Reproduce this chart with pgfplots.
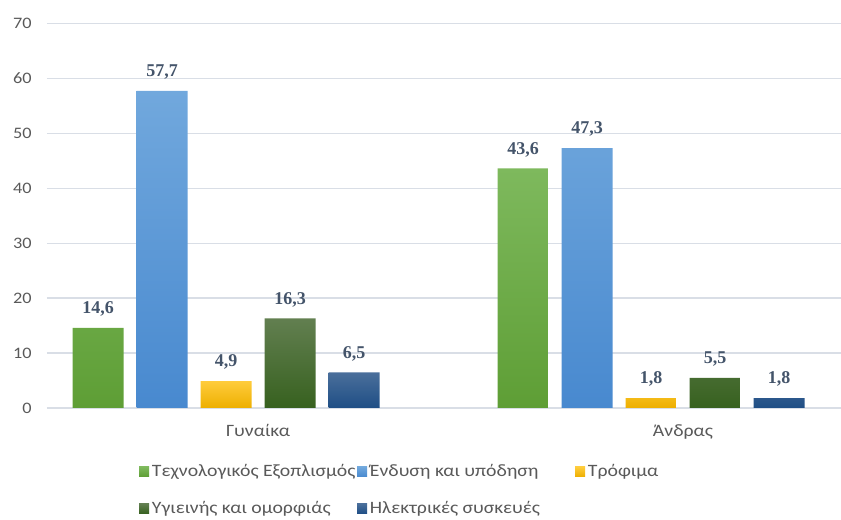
\documentclass[border=0pt]{standalone}
\usepackage{pgfplots}
\pgfplotsset{compat=1.18}
\usepackage{fontspec}
\setmainfont{Carlito}
\newfontfamily\legfont[FakeStretch=1.14]{Carlito}
\newfontfamily\valfont{Liberation Serif}
\definecolor{tickgray}{HTML}{595959}
\definecolor{gridc}{HTML}{D9DEE6}
\definecolor{valc}{HTML}{44546A}
\definecolor{cA}{HTML}{6AAA45}
\definecolor{cAt}{HTML}{7EB95D}
\definecolor{cAb}{HTML}{5E9E35}
\definecolor{cB}{HTML}{5B9BD5}
\definecolor{cBt}{HTML}{71A8DD}
\definecolor{cBb}{HTML}{4889CF}
\definecolor{cC}{HTML}{FFC000}
\definecolor{cCt}{HTML}{FFCC3C}
\definecolor{cCb}{HTML}{EDAF00}
\definecolor{cD}{HTML}{43682B}
\definecolor{cDt}{HTML}{627F50}
\definecolor{cDb}{HTML}{37611F}
\definecolor{cE}{HTML}{255E91}
\definecolor{cEt}{HTML}{4A6F9B}
\definecolor{cEb}{HTML}{1F4E85}
\begin{document}
\begin{tikzpicture}[x=0.75pt,y=0.75pt]
\begin{axis}[
  scale only axis,
  width=595.5pt, height=288.5pt,
  ybar,
  xmin=47, xmax=841,
  ymin=0, ymax=70,
  ytick={0,10,...,70},
  xtick={258,683},
  xticklabels={Γυναίκα, Άνδρας},
  bar width=51,
  axis line style={draw=none},
  major tick length=0pt,
  ymajorgrids,
  grid style={color=gridc, line width=0.9pt},
  tick label style={color=tickgray},
  yticklabel style={font=\legfont\fontsize{12}{14}\selectfont, xshift=-8pt},
  xticklabel style={font=\legfont\fontsize{13}{15}\selectfont, yshift=-9pt},
  /pgf/number format/assume math mode=true,
  nodes near coords={\pgfmathprintnumber[fixed,fixed zerofill,precision=1,use comma]{\pgfplotspointmeta}},
  nodes near coords style={font=\valfont\bfseries\fontsize{13.5}{15}\selectfont, color=valc, anchor=south, yshift=5pt},
  legend columns=3,
  legend style={draw=none, fill=none, at={(0.1108,-0.133)}, anchor=north west,
    font=\legfont\fontsize{13}{15}\selectfont, text=tickgray,
    /tikz/every even column/.append style={column sep=0pt},
    row sep=13pt},
  legend cell align=left,
]
\addplot[draw=none, bar shift=-160, top color=cAt, bottom color=cAb,
  legend image code/.code={\fill[cA] (0pt,-3.75pt) rectangle (7.5pt,3.75pt);}]
  coordinates {(258,14.6) (683,43.6)};
\addlegendentry{\makebox[152pt][l]{Τεχνολογικός Εξοπλισμός}}
\addplot[draw=none, bar shift=-96, top color=cBt, bottom color=cBb,
  legend image code/.code={\fill[cB] (0pt,-3.75pt) rectangle (7.5pt,3.75pt);}]
  coordinates {(258,57.7) (683,47.3)};
\addlegendentry{\makebox[152pt][l]{Ένδυση και υπόδηση}}
\addplot[draw=none, bar shift=-32, top color=cCt, bottom color=cCb,
  legend image code/.code={\fill[cC] (0pt,-3.75pt) rectangle (7.5pt,3.75pt);}]
  coordinates {(258,4.9) (683,1.8)};
\addlegendentry{Τρόφιμα}
\addplot[draw=none, bar shift=32, top color=cDt, bottom color=cDb,
  legend image code/.code={\fill[cD] (0pt,-3.75pt) rectangle (7.5pt,3.75pt);}]
  coordinates {(258,16.3) (683,5.5)};
\addlegendentry{\makebox[152pt][l]{Υγιεινής και ομορφιάς}}
\addplot[draw=none, bar shift=96, top color=cEt, bottom color=cEb,
  legend image code/.code={\fill[cE] (0pt,-3.75pt) rectangle (7.5pt,3.75pt);}]
  coordinates {(258,6.5) (683,1.8)};
\addlegendentry{\makebox[152pt][l]{Ηλεκτρικές συσκευές}}
\end{axis}
\pgfresetboundingbox
\useasboundingbox (-35.25pt,-84pt) rectangle (595.5pt,306pt);
\end{tikzpicture}
\end{document}
